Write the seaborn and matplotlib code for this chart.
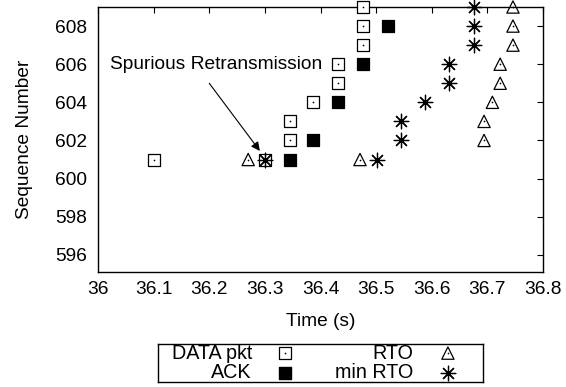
import matplotlib
matplotlib.use("Agg")
import matplotlib.pyplot as plt
import seaborn as sns
import pandas as pd

# ---- data ----
data_x = [36.100, 36.300, 36.345, 36.345, 36.387, 36.432, 36.432, 36.477, 36.477, 36.477]
data_y = [601, 601, 602, 603, 604, 605, 606, 607, 608, 609]
ack_x = [36.345, 36.387, 36.432, 36.477, 36.522]
ack_y = [601, 602, 604, 606, 608]
rto_x = [36.270, 36.471, 36.694, 36.694, 36.709, 36.723, 36.723, 36.746, 36.746, 36.746]
rto_y = [601, 601, 602, 603, 604, 605, 606, 607, 608, 609]
minrto_x = [36.300, 36.502, 36.545, 36.545, 36.588, 36.631, 36.631, 36.676, 36.676, 36.676]
minrto_y = [601, 601, 602, 603, 604, 605, 606, 607, 608, 609]

xticks = [36, 36.1, 36.2, 36.3, 36.4, 36.5, 36.6, 36.7, 36.8]
xticklabels = ["36", "36.1", "36.2", "36.3", "36.4", "36.5", "36.6", "36.7", "36.8"]
yticks = [596, 598, 600, 602, 604, 606, 608]
legend_labels = ["DATA pkt", "ACK", "RTO", "min RTO"]

sns.set_theme(style="white")
plt.rcParams['font.family'] = ['Liberation Sans', 'DejaVu Sans']
FS = 13.8

fig = plt.figure(figsize=(5.66, 3.87), dpi=100)
W, H = 566, 387
ax = fig.add_axes([98 / W, 1 - 272 / H, (543 - 98) / W, (272 - 7) / H])

df_data = pd.DataFrame({"t": data_x, "s": data_y})
df_ack = pd.DataFrame({"t": ack_x, "s": ack_y})
df_rto = pd.DataFrame({"t": rto_x, "s": rto_y})
df_min = pd.DataFrame({"t": minrto_x, "s": minrto_y})

MS = 78
common = dict(x="t", y="s", ax=ax, legend=False, clip_on=False, zorder=3)
sns.scatterplot(data=df_data, marker="s", s=MS, facecolor="white", edgecolor="black", linewidth=0.9, **common)
sns.scatterplot(data=df_data, marker="o", s=1.5, color="black", linewidth=0, **common)
sns.scatterplot(data=df_ack, marker="s", s=MS, color="black", edgecolor="black", linewidth=0.9, **common)
sns.scatterplot(data=df_rto, marker="^", s=MS, facecolor="none", edgecolor="black", linewidth=0.9, **common)
sns.scatterplot(data=df_rto, marker="o", s=1.5, color="black", linewidth=0, **common)
sns.scatterplot(data=df_min, marker=(8, 2, 0), s=110, color="black", linewidth=0.9, **common)

ax.set_xlim(36, 36.8)
ax.set_ylim(595.1, 609)
ax.set_xticks(xticks)
ax.set_xticklabels(xticklabels)
ax.set_yticks(yticks)
ax.tick_params(direction="in", length=4, width=0.8, top=True, right=True,
               labelsize=FS, colors="black", pad=6.5)
ax.tick_params(axis="y", pad=8)
for sp in ax.spines.values():
    sp.set_color("black")
    sp.set_linewidth(1.0)
ax.set_xlabel("Time (s)", fontsize=FS, color="black", labelpad=11)
ax.set_ylabel("Sequence Number", fontsize=FS, color="black", labelpad=16)

ax.text(36.022, 606.0, "Spurious Retransmission", fontsize=FS, va="center", ha="left", color="black")
ax.annotate("", xy=(36.291, 601.45), xytext=(36.200, 605.0),
            arrowprops=dict(arrowstyle="-|>", color="black", lw=0.8,
                            mutation_scale=13, shrinkA=0, shrinkB=0))

# ---- legend box below the plot ----
lax = fig.add_axes([158 / W, 1 - 382 / H, (483 - 158) / W, (382 - 344) / H])
lax.set_xlim(0, 1)
lax.set_ylim(0, 1)
lax.set_xticks([])
lax.set_yticks([])
for sp in lax.spines.values():
    sp.set_color("black")
    sp.set_linewidth(1.0)
r1, r2 = 0.76, 0.24
tx1, mx1, tx2, mx2 = 0.289, 0.391, 0.785, 0.892
LFS = 14.2
lax.text(tx1, r1, legend_labels[0], ha="right", va="center", fontsize=LFS, color="black")
lax.text(tx1, r2, legend_labels[1], ha="right", va="center", fontsize=LFS, color="black")
lax.text(tx2, r1, legend_labels[2], ha="right", va="center", fontsize=LFS, color="black")
lax.text(tx2, r2, legend_labels[3], ha="right", va="center", fontsize=LFS, color="black")
lax.scatter([mx1], [r1], marker="s", s=MS, facecolor="white", edgecolor="black", linewidth=0.9)
lax.scatter([mx1], [r1], marker="o", s=1.5, color="black", linewidth=0)
lax.scatter([mx1], [r2], marker="s", s=MS, color="black")
lax.scatter([mx2], [r1], marker="^", s=MS, facecolor="none", edgecolor="black", linewidth=0.9)
lax.scatter([mx2], [r1], marker="o", s=1.5, color="black", linewidth=0)
lax.scatter([mx2], [r2], marker=(8, 2, 0), s=110, color="black", linewidth=0.9)

fig.savefig("out.png", dpi=100)
